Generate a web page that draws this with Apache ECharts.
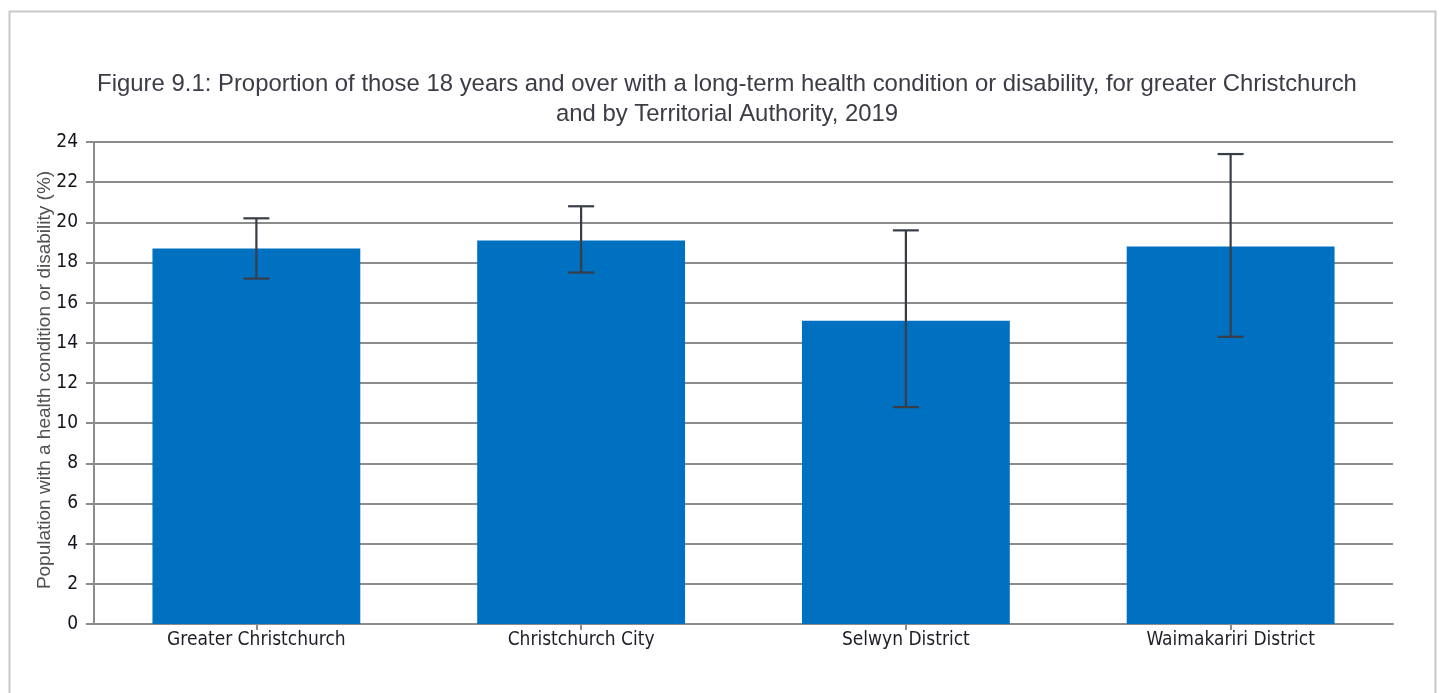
<!DOCTYPE html>
<html>
<head>
<meta charset="utf-8">
<script src="https://cdn.jsdelivr.net/npm/echarts@6/dist/echarts.min.js"></script>
<style>
html,body{margin:0;padding:0;background:#fff;}
#chart{width:1441px;height:693px;}
</style>
</head>
<body>
<div id="chart"></div>
<script>
var categories = ['Greater Christchurch', 'Christchurch City', 'Selwyn District', 'Waimakariri District'];
var values = [18.7, 19.1, 15.1, 18.8];
var errLow = [17.2, 17.5, 10.8, 14.3];
var errHigh = [20.2, 20.8, 19.6, 23.4];
var yTicks = [0, 2, 4, 6, 8, 10, 12, 14, 16, 18, 20, 22, 24];

var errData = categories.map(function (c, i) { return [i, errLow[i], errHigh[i]]; });

var chart = echarts.init(document.getElementById('chart'));
chart.setOption({
  backgroundColor: '#fff',
  animation: false,
  graphic: [{
    type: 'rect',
    shape: { x: 9.5, y: 11.5, width: 1426, height: 720 },
    style: { fill: 'none', stroke: '#c8c8c8', lineWidth: 2 },
    silent: true
  }],
  title: {
    text: 'Figure 9.1: Proportion of those 18 years and over with a long-term health condition or disability, for greater Christchurch\nand by Territorial Authority, 2019',
    left: 722,
    textAlign: 'center',
    top: 64,
    textStyle: {
      fontFamily: "'Liberation Sans'",
      fontSize: 23.9,
      fontWeight: 'normal',
      color: '#3c3c46',
      lineHeight: 30
    }
  },
  grid: { left: 94, right: 48, top: 142, bottom: 69 },
  xAxis: {
    type: 'category',
    data: categories,
    axisLine: { lineStyle: { color: '#8c8c8c', width: 2 } },
    axisTick: { show: true, alignWithLabel: true, length: 6, lineStyle: { color: '#8c8c8c', width: 2 } },
    axisLabel: {
      fontFamily: "'DejaVu Sans Condensed', 'DejaVu Sans'",
      fontSize: 19,
      color: '#1e1e28',
      margin: 7
    }
  },
  yAxis: {
    type: 'value',
    min: yTicks[0],
    max: yTicks[yTicks.length - 1],
    interval: 2,
    name: 'Population with a health condition or disability (%)',
    nameLocation: 'middle',
    nameGap: 40,
    nameMoveOverlap: false,
    nameTextStyle: {
      fontFamily: "'Liberation Sans'",
      fontSize: 19,
      color: '#505050',
      padding: [0, 0, 0, 6]
    },
    axisLine: { show: true, lineStyle: { color: '#8c8c8c', width: 2 } },
    axisTick: { show: true, length: 8, lineStyle: { color: '#8c8c8c', width: 2 } },
    axisLabel: {
      fontFamily: "'DejaVu Sans Condensed', 'DejaVu Sans'",
      fontSize: 19,
      color: '#14141e',
      margin: 16
    },
    splitLine: { lineStyle: { color: '#8c8c8c', width: 2 } }
  },
  series: [{
    type: 'bar',
    data: values,
    barWidth: '64%',
    itemStyle: { color: '#0070C0' },
    z: 2
  }, {
    type: 'custom',
    data: errData,
    z: 3,
    renderItem: function (params, api) {
      var x = api.value(0);
      var lo = api.coord([x, api.value(1)]);
      var hi = api.coord([x, api.value(2)]);
      var half = 13;
      var style = { stroke: '#383d48', lineWidth: 2.2, fill: 'none' };
      return {
        type: 'group',
        children: [
          { type: 'line', shape: { x1: hi[0], y1: hi[1], x2: lo[0], y2: lo[1] }, style: style },
          { type: 'line', shape: { x1: hi[0] - half, y1: hi[1], x2: hi[0] + half, y2: hi[1] }, style: style },
          { type: 'line', shape: { x1: lo[0] - half, y1: lo[1], x2: lo[0] + half, y2: lo[1] }, style: style }
        ]
      };
    }
  }]
});
</script>
</body>
</html>
